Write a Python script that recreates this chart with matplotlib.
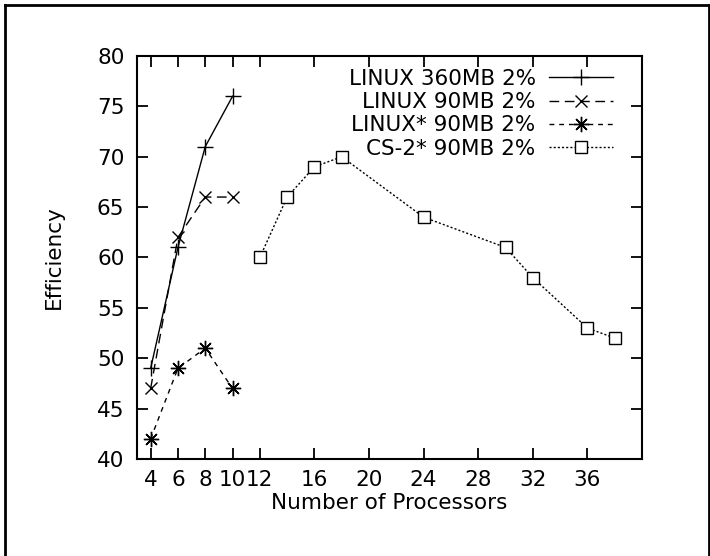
import numpy as np
import matplotlib.pyplot as plt
from matplotlib.lines import Line2D

plt.rcParams['font.family'] = ['DejaVu Sans']

# data
procs_linux = [4, 6, 8, 10]
eff_linux_360 = [49, 61, 71, 76]
eff_linux_90 = [47, 62, 66, 66]
eff_linux_star_90 = [42, 49, 51, 47]

procs_cs2 = [12, 14, 16, 18, 24, 30, 32, 36, 38]
eff_cs2 = [60, 66, 69, 70, 64, 61, 58, 53, 52]

x_ticks = [4, 6, 8, 10, 12, 16, 20, 24, 28, 32, 36]
y_ticks = [40, 45, 50, 55, 60, 65, 70, 75, 80]

W, H = 710, 556
fs = 15.5
fig = plt.figure(figsize=(W / 100, H / 100), dpi=100)
ax = fig.add_axes([137 / W, 1 - 459 / H, (642 - 137) / W, (459 - 56) / H])

ax.plot(procs_linux, eff_linux_360, color="black", linestyle="-", linewidth=1.0,
        marker="+", markersize=11, markeredgewidth=1.0, label="LINUX 360MB 2%")
ax.plot(procs_linux, eff_linux_90, color="black", linestyle=(0, (7, 4)), linewidth=1.0,
        marker="x", markersize=9, markeredgewidth=1.0, label="LINUX 90MB 2%")
ax.plot(procs_linux, eff_linux_star_90, color="black", linestyle=(0, (3.5, 3.5)), linewidth=1.0,
        marker=(8, 2, 0), markersize=11, markeredgewidth=1.0, label="LINUX* 90MB 2%")
ax.plot(procs_cs2, eff_cs2, color="black", linestyle=(0, (1.5, 1.5)), linewidth=1.0,
        marker="s", markersize=8, markerfacecolor="white", markeredgewidth=1.0,
        label="CS-2* 90MB 2%")

ax.set_xlim(3, 40)
ax.set_ylim(40, 80)
ax.set_xticks(x_ticks)
ax.set_yticks(y_ticks)

for s in ax.spines.values():
    s.set_linewidth(1.5)
ax.tick_params(direction="in", length=8, width=1.3, top=True, right=True,
               labelsize=fs)
ax.tick_params(axis="y", pad=9)
ax.tick_params(axis="x", pad=8)

ax.set_xlabel("Number of Processors", fontsize=fs, labelpad=2)
ax.set_ylabel("Efficiency", fontsize=fs, labelpad=24)

ax.legend(loc="upper right", bbox_to_anchor=(0.943, 0.968), frameon=False,
          markerfirst=False, numpoints=1, fontsize=fs, handlelength=3.0,
          handletextpad=0.6, labelspacing=0.15, borderpad=0, borderaxespad=0)

# outer frame of the figure
fig.add_artist(Line2D([5 / W, 5 / W], [0, 1 - 5 / H], transform=fig.transFigure,
                      color="black", linewidth=2))
fig.add_artist(Line2D([5 / W, 1 - 1.5 / W], [1 - 5 / H, 1 - 5 / H], transform=fig.transFigure,
                      color="black", linewidth=2))
fig.add_artist(Line2D([1 - 1.5 / W, 1 - 1.5 / W], [0, 1 - 5 / H], transform=fig.transFigure,
                      color="black", linewidth=2))

fig.savefig("out.png", dpi=100)
